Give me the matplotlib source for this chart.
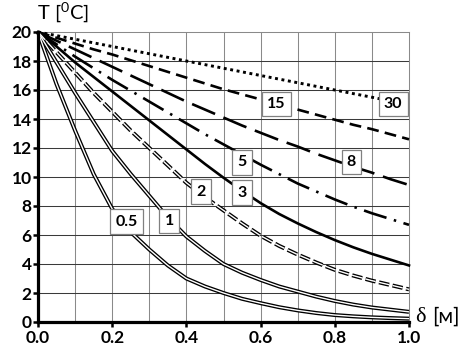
import numpy as np
import matplotlib
matplotlib.use("Agg")
import matplotlib.pyplot as plt
from matplotlib.ticker import MultipleLocator, FormatStrFormatter

# шрифты
plt.rcParams["font.family"] = ["Lato", "DejaVu Sans"]
plt.rcParams["mathtext.fontset"] = "custom"
plt.rcParams["mathtext.rm"] = "Lato"
plt.rcParams["lines.scale_dashes"] = False

# глубина, м
delta = [0.0, 0.05, 0.1, 0.15, 0.2, 0.25, 0.3, 0.35, 0.4, 0.45, 0.5,
         0.55, 0.6, 0.65, 0.7, 0.75, 0.8, 0.85, 0.9, 0.95, 1.0]

# температура, °C
T_05 = [20, 16.4, 13.2, 10.2, 7.8, 6.2, 5.0, 3.9, 3.0, 2.45, 2.0,
        1.6, 1.3, 1.02, 0.8, 0.62, 0.48, 0.39, 0.32, 0.27, 0.23]
T_1 = [20, 17.9, 15.8, 13.8, 11.8, 10.2, 8.7, 7.2, 5.9, 4.9, 4.0,
       3.4, 2.9, 2.45, 2.1, 1.75, 1.45, 1.2, 1.0, 0.85, 0.7]
T_2 = [20, 18.6, 17.2, 15.8, 14.5, 13.2, 12.0, 10.8, 9.6, 8.6, 7.7,
       6.8, 5.95, 5.25, 4.65, 4.1, 3.6, 3.2, 2.85, 2.55, 2.25]
T_3 = [20, 19.0, 17.9, 16.9, 15.9, 14.9, 13.9, 12.9, 11.9, 10.9, 9.95,
       9.05, 8.2, 7.45, 6.8, 6.2, 5.65, 5.15, 4.7, 4.3, 3.9]
T_5 = [20, 19.15, 18.3, 17.5, 16.7, 15.95, 15.2, 14.45, 13.7, 12.95, 12.25,
       11.55, 10.85, 10.2, 9.55, 9.0, 8.45, 7.95, 7.5, 7.1, 6.7]
T_8 = [20, 19.4, 18.8, 18.2, 17.6, 17.0, 16.4, 15.8, 15.2, 14.65, 14.1,
       13.55, 13.05, 12.55, 12.1, 11.6, 11.15, 10.7, 10.3, 9.85, 9.45]
T_15 = [20, 19.6, 19.2, 18.8, 18.45, 18.05, 17.65, 17.25, 16.85, 16.45, 16.05,
        15.7, 15.35, 15.0, 14.65, 14.3, 13.95, 13.6, 13.3, 12.95, 12.6]
T_30 = [20, 19.75, 19.5, 19.25, 19.0, 18.75, 18.5, 18.25, 18.0, 17.75, 17.5,
        17.25, 17.0, 16.75, 16.5, 16.25, 16.0, 15.75, 15.5, 15.25, 15.0]

# подписи кривых и их места
labels = ["0.5", "1", "2", "3", "5", "8", "15", "30"]
label_x = [0.239, 0.354, 0.44, 0.549, 0.549, 0.845, 0.643, 0.957]
label_y = [6.93, 6.97, 8.99, 8.93, 11.0, 11.03, 15.05, 15.05]

fig = plt.figure(figsize=(4.69, 3.5), dpi=100)
ax = fig.add_axes([38 / 469, 28 / 350, 371 / 469, 290 / 350])

# сетка
for x in np.arange(0.1, 1.0, 0.1):
    ax.axvline(x, color="#8a8a8a", lw=0.75, zorder=1)
for y in np.arange(2, 20, 2):
    ax.axhline(y, color="#3a3a3a", lw=0.75, zorder=1)

# двойные линии
def double_line(x, y, ls="-"):
    ax.plot(x, y, color="black", lw=2.9, ls=ls, dash_capstyle="butt",
            solid_capstyle="butt", zorder=3, clip_on=False)
    ax.plot(x, y, color="white", lw=1.0, ls=ls, dash_capstyle="butt",
            solid_capstyle="butt", zorder=4, clip_on=False)

double_line(delta, T_05)
double_line(delta, T_1)
double_line(delta, T_2, ls=(0, (7.5, 2.5)))

ax.plot(delta, T_3, color="black", lw=1.9, zorder=3, clip_on=False)
ax.plot(delta, T_5, color="black", lw=1.9, ls=(0, (17, 5.5, 1.8, 5.5)),
        dash_capstyle="butt", zorder=3, clip_on=False)
ax.plot(delta, T_8, color="black", lw=1.9, ls=(0, (18, 6.5)),
        dash_capstyle="butt", zorder=3, clip_on=False)
ax.plot(delta, T_15, color="black", lw=1.9, ls=(0, (8.5, 4.5)),
        dash_capstyle="butt", zorder=3, clip_on=False)
ax.plot(delta, T_30, color="black", lw=2.1, ls=(0, (2.1, 2.6)),
        dash_capstyle="butt", zorder=3, clip_on=False)

for s, x, y in zip(labels, label_x, label_y):
    ax.text(x, y, s, ha="center", va="center", fontsize=11.5, fontweight="bold",
            zorder=6, bbox=dict(boxstyle="square,pad=0.33", fc="white",
                                ec="#808080", lw=0.9))

ax.set_xlim(0, 1.0)
ax.set_ylim(0, 20)
ax.xaxis.set_major_locator(MultipleLocator(0.2))
ax.xaxis.set_major_formatter(FormatStrFormatter("%.1f"))
ax.yaxis.set_major_locator(MultipleLocator(2))

for side in ["top", "right"]:
    ax.spines[side].set_color("#8a8a8a")
    ax.spines[side].set_linewidth(0.75)
for side in ["left", "bottom"]:
    ax.spines[side].set_color("black")
    ax.spines[side].set_linewidth(2.3)
    ax.spines[side].set_zorder(5)

ax.tick_params(axis="both", direction="out", length=3.5, width=1.8,
               labelsize=12.5, colors="black")
ax.tick_params(axis="y", pad=1.0)
ax.tick_params(axis="x", pad=2.5)
for lab in ax.get_xticklabels() + ax.get_yticklabels():
    lab.set_fontweight("bold")

fig.text(37 / 469, 1 - 13 / 350, r"T [$^{0}$C]", ha="left", va="center",
         fontsize=14.5)
fig.text(415 / 469, 1 - 317 / 350, "δ", ha="left", va="center",
         fontsize=16, family="Liberation Serif")
fig.text(432 / 469, 1 - 317 / 350, "[м]", ha="left", va="center",
         fontsize=15)

fig.savefig("out.png", dpi=100)
